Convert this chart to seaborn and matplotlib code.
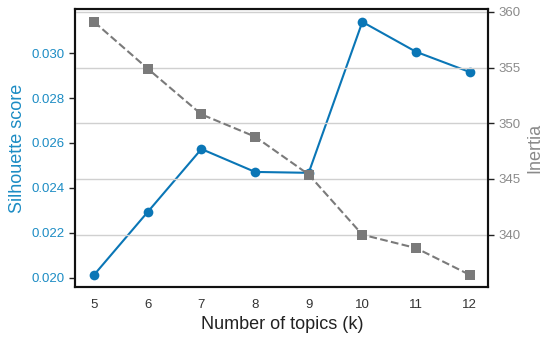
import matplotlib
matplotlib.use("Agg")
import matplotlib.pyplot as plt
import seaborn as sns
import pandas as pd
from matplotlib.ticker import FormatStrFormatter

k_values = [5, 6, 7, 8, 9, 10, 11, 12]
silhouette = [0.02013, 0.02293, 0.02573, 0.02471, 0.02467, 0.03139, 0.03006, 0.02916]
inertia = [359.1, 354.9, 350.8, 348.8, 345.4, 340.0, 338.8, 336.4]

df = pd.DataFrame({"k": k_values, "silhouette": silhouette, "inertia": inertia})

sns.set_style("white")
plt.rcParams['font.family'] = ['Liberation Sans', 'DejaVu Sans']

blue = "#0a76b6"
blue_txt = "#1c8cc4"
gray = "#7a7a7a"
gray_txt = "#8a8a8a"

fig = plt.figure(figsize=(5.5, 3.43), dpi=100)
ax1 = fig.add_axes([0.137, 0.162, 0.751, 0.811])
ax2 = ax1.twinx()

sns.lineplot(data=df, x="k", y="silhouette", ax=ax1, color=blue, marker="o",
             markersize=7, markeredgewidth=0, linewidth=1.5)
sns.lineplot(data=df, x="k", y="inertia", ax=ax2, color=gray, marker="s",
             markersize=6.5, markeredgewidth=0, linewidth=1.5, linestyle="--")

ax1.set_xticks(k_values)
ax1.set_yticks([0.020, 0.022, 0.024, 0.026, 0.028, 0.030])
ax1.yaxis.set_major_formatter(FormatStrFormatter("%.3f"))
ax2.set_yticks([340, 345, 350, 355, 360])

ax1.set_xlabel("Number of topics (k)", fontsize=13, color="#222222")
ax1.set_ylabel("Silhouette score", fontsize=13, color=blue_txt)
ax2.set_ylabel("Inertia", fontsize=13, color=gray_txt)

ax1.tick_params(axis="x", length=0, labelsize=9.5, colors="#333333", pad=8)
ax1.tick_params(axis="y", length=4, width=1, labelsize=9.5, labelcolor=blue_txt, color="#222222")
ax2.tick_params(axis="y", length=4, width=1, labelsize=9.5, labelcolor=gray_txt, color="#222222")

ax1.grid(False)
ax2.grid(True, axis="y", color="#d0d0d0", linewidth=1)
ax2.set_axisbelow(True)

for ax in (ax1, ax2):
    for s in ax.spines.values():
        s.set_color("#111111")
        s.set_linewidth(1.5)

fig.savefig("out.png", dpi=100)
